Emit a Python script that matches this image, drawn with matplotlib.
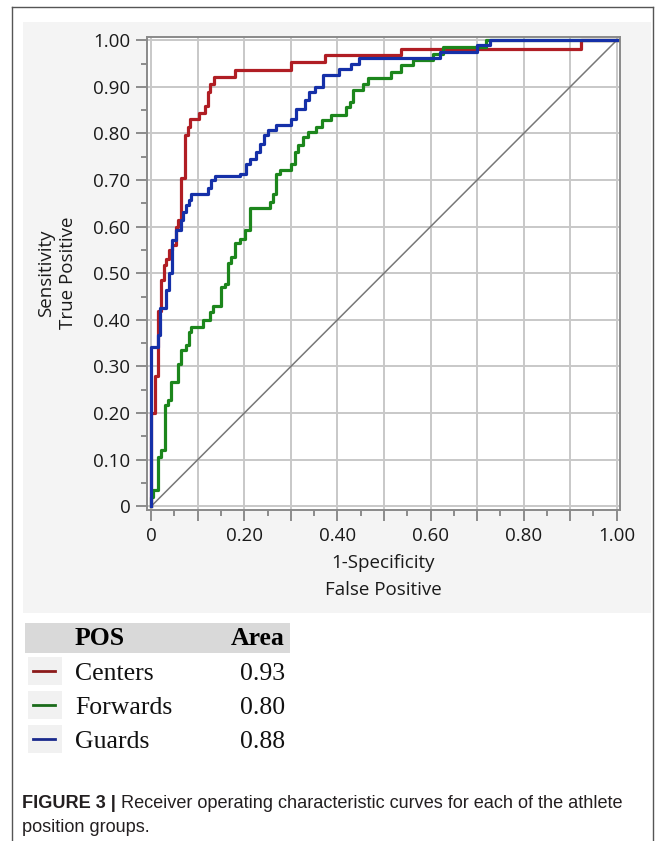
import matplotlib
matplotlib.use("Agg")
import matplotlib.pyplot as plt
from matplotlib.patches import Rectangle
from matplotlib.lines import Line2D
from matplotlib.ticker import FixedLocator, FixedFormatter

# ---------------- data ----------------
centers_fpr = [0, 0, 0.0075, 0.0147, 0.022, 0.027, 0.031, 0.038, 0.045, 0.053, 0.058, 0.065,
               0.072, 0.079, 0.083, 0.103, 0.115, 0.122, 0.127, 0.134, 0.179, 0.301, 0.373,
               0.537, 0.924, 1.0]
centers_tpr = [0, 0.20, 0.28, 0.42, 0.485, 0.517, 0.53, 0.549, 0.56, 0.60, 0.614, 0.704,
               0.796, 0.814, 0.83, 0.844, 0.858, 0.889, 0.907, 0.921, 0.936, 0.953, 0.968,
               0.982, 1.0, 1.0]

guards_fpr = [0, 0, 0.0147, 0.019, 0.031, 0.038, 0.045, 0.0526, 0.065, 0.069, 0.0756, 0.081,
              0.086, 0.122, 0.129, 0.136, 0.19, 0.204, 0.212, 0.226, 0.233, 0.242, 0.251,
              0.269, 0.301, 0.312, 0.33, 0.34, 0.351, 0.368, 0.403, 0.43, 0.446, 0.62,
              0.699, 0.727, 1.0]
guards_tpr = [0, 0.342, 0.367, 0.425, 0.464, 0.50, 0.571, 0.592, 0.614, 0.632, 0.646, 0.657,
              0.671, 0.682, 0.70, 0.708, 0.714, 0.735, 0.746, 0.76, 0.778, 0.796, 0.808,
              0.818, 0.832, 0.853, 0.871, 0.889, 0.90, 0.925, 0.939, 0.95, 0.961, 0.975,
              0.989, 1.0, 1.0]

forwards_fpr = [0, 0, 0.004, 0.0147, 0.022, 0.029, 0.036, 0.0434, 0.0576, 0.065, 0.074, 0.081,
                0.086, 0.111, 0.126, 0.133, 0.151, 0.158, 0.165, 0.172, 0.179, 0.19, 0.201,
                0.212, 0.255, 0.262, 0.269, 0.276, 0.301, 0.308, 0.315, 0.326, 0.337, 0.355,
                0.366, 0.387, 0.419, 0.426, 0.433, 0.455, 0.466, 0.516, 0.537, 0.562, 0.605,
                0.627, 0.72, 1.0]
forwards_tpr = [0, 0.02, 0.034, 0.106, 0.12, 0.217, 0.227, 0.267, 0.306, 0.335, 0.345, 0.374,
                0.385, 0.399, 0.417, 0.429, 0.471, 0.478, 0.521, 0.535, 0.564, 0.574, 0.592,
                0.639, 0.653, 0.671, 0.714, 0.721, 0.735, 0.76, 0.775, 0.792, 0.803, 0.814,
                0.828, 0.839, 0.857, 0.868, 0.893, 0.907, 0.918, 0.932, 0.946, 0.957, 0.971,
                0.986, 1.0, 1.0]

groups = ["Centers", "Forwards", "Guards"]
areas = ["0.93", "0.80", "0.88"]

x_major = [0, 0.1, 0.2, 0.3, 0.4, 0.5, 0.6, 0.7, 0.8, 0.9, 1.0]
x_labels = ["0", "", "0.20", "", "0.40", "", "0.60", "", "0.80", "", "1.00"]
y_major = [0, 0.1, 0.2, 0.3, 0.4, 0.5, 0.6, 0.7, 0.8, 0.9, 1.0]
y_labels = ["0", "0.10", "0.20", "0.30", "0.40", "0.50", "0.60", "0.70", "0.80", "0.90", "1.00"]
minor_ticks = [0.05, 0.15, 0.25, 0.35, 0.45, 0.55, 0.65, 0.75, 0.85, 0.95]

# ---------------- figure ----------------
W, H = 667, 841
fig = plt.figure(figsize=(W / 100, H / 100), dpi=100)
fig.patch.set_facecolor("white")


def fx(px):
    return px / W


def fy(py):
    return 1 - py / H


# outer frame
fig.add_artist(Line2D([fx(12), fx(12)], [fy(7), 0], color="#555555", lw=1.0))
fig.add_artist(Line2D([fx(653), fx(653)], [fy(7), 0], color="#555555", lw=1.0))
fig.add_artist(Line2D([fx(12), fx(653)], [fy(7), fy(7)], color="#555555", lw=1.0))

# light gray panel behind the plot
fig.add_artist(Rectangle((fx(23), fy(613)), fx(651) - fx(23), fy(22) - fy(613),
                         facecolor="#f4f4f4", edgecolor="none", zorder=0))

ax = fig.add_axes([fx(147), fy(510), fx(620) - fx(147), fy(37) - fy(510)])
ax.set_facecolor("white")
ax.set_xlim(-0.009, 1.007)
ax.set_ylim(-0.008, 1.007)

ax.xaxis.set_major_locator(FixedLocator(x_major))
ax.xaxis.set_major_formatter(FixedFormatter(x_labels))
ax.yaxis.set_major_locator(FixedLocator(y_major))
ax.yaxis.set_major_formatter(FixedFormatter(y_labels))
ax.xaxis.set_minor_locator(FixedLocator(minor_ticks))
ax.yaxis.set_minor_locator(FixedLocator(minor_ticks))

tickfont = "Open Sans"
ax.tick_params(which="major", length=8, width=1.1, color="#707070", labelsize=13.5,
               labelcolor="#1a1a1a", pad=4)
ax.tick_params(which="minor", length=4, width=1.1, color="#707070")
for lab in ax.get_xticklabels() + ax.get_yticklabels():
    lab.set_fontfamily(tickfont)

ax.grid(True, which="major", color="#c8c8c8", lw=1.4, zorder=0)
for s in ax.spines.values():
    s.set_color("#8a8a8a")
    s.set_linewidth(1.4)

ax.plot([0, 1], [0, 1], color="#777777", lw=1.1, zorder=2)
ax.plot(centers_fpr, centers_tpr, drawstyle="steps-post", color="#b01e24", lw=2.3, zorder=3)
ax.plot(forwards_fpr, forwards_tpr, drawstyle="steps-post", color="#1c861c", lw=2.3, zorder=4)
ax.plot(guards_fpr, guards_tpr, drawstyle="steps-post", color="#1530a8", lw=2.3, zorder=5)

# axis labels
fig.text(fx(383), fy(563), "1-Specificity", ha="center", va="center",
         fontsize=13.5, family=tickfont, color="#1a1a1a")
fig.text(fx(383), fy(590), "False Positive", ha="center", va="center",
         fontsize=13.5, family=tickfont, color="#1a1a1a")
fig.text(fx(46), fy(273), "Sensitivity", ha="center", va="center", rotation=90,
         fontsize=13.5, family=tickfont, color="#1a1a1a")
fig.text(fx(68), fy(273), "True Positive", ha="center", va="center", rotation=90,
         fontsize=13.5, family=tickfont, color="#1a1a1a")

# legend table
serif = "Liberation Serif"
legsize = 18.5
fig.add_artist(Rectangle((fx(25), fy(653)), fx(290) - fx(25), fy(623) - fy(653),
                         facecolor="#d9d9d9", edgecolor="none"))
fig.text(fx(75), fy(645), "POS", ha="left", va="baseline", fontsize=legsize,
         family=serif, weight="bold", color="black")
fig.text(fx(285), fy(645), "Area", ha="right", va="baseline", fontsize=legsize,
         family=serif, weight="bold", color="black")
leg_colors = ["#8b1a1a", "#1a6b1a", "#1a2a8c"]
row_base = [680, 714, 748]
for g, a, c, yb in zip(groups, areas, leg_colors, row_base):
    fig.add_artist(Rectangle((fx(28), fy(yb + 5)), fx(62) - fx(28), fy(yb - 23) - fy(yb + 5),
                             facecolor="#f1f1f1", edgecolor="none"))
    fig.add_artist(Line2D([fx(33), fx(55)], [fy(yb - 9), fy(yb - 9)], color=c, lw=2.0))
    fig.text(fx(75), fy(yb), g, ha="left", va="baseline", fontsize=legsize,
             family=serif, color="#111111")
    fig.text(fx(285), fy(yb), a, ha="right", va="baseline", fontsize=legsize,
             family=serif, color="#111111")

# caption
capfam = ["Liberation Sans Narrow", "Liberation Sans", "DejaVu Sans"]
capsize = 13.1
t1 = fig.text(fx(22), fy(808), "FIGURE 3 | ", ha="left", va="baseline", fontsize=capsize,
              family=capfam, weight="bold", color="#231f20")
fig.canvas.draw()
bb = t1.get_window_extent(renderer=fig.canvas.get_renderer())
fig.text(bb.x1 / W, fy(808), "Receiver operating characteristic curves for each of the athlete",
         ha="left", va="baseline", fontsize=capsize, family=capfam, color="#231f20")
fig.text(fx(22), fy(832), "position groups.", ha="left", va="baseline", fontsize=capsize,
         family=capfam, color="#231f20")

fig.savefig("out.png", dpi=100, facecolor="white")
